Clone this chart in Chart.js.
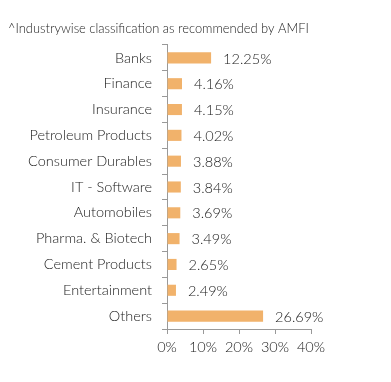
<!DOCTYPE html>
<html>
<head>
<meta charset="utf-8">
<script src="https://cdn.jsdelivr.net/npm/chart.js@4"></script>
<style>
html,body{margin:0;padding:0;background:#fff;}
#wrap{position:relative;width:391px;height:382px;}
</style>
</head>
<body>
<div id="wrap"><canvas id="c" width="391" height="382"></canvas></div>
<script>
const categories = ["Banks","Finance","Insurance","Petroleum Products","Consumer Durables","IT - Software","Automobiles","Pharma. & Biotech","Cement Products","Entertainment","Others"];
const weights = [12.25,4.16,4.15,4.02,3.88,3.84,3.69,3.49,2.65,2.49,26.69];
const xTicks = [0,10,20,30,40];
const titleText = "^Industrywise classification as recommended by AMFI";

const valueLabels = {
  id: 'valueLabels',
  afterDatasetsDraw(chart) {
    const ctx = chart.ctx;
    const meta = chart.getDatasetMeta(0);
    ctx.save();
    ctx.font = '300 14.5px Lato';
    ctx.fillStyle = '#1a1a1a';
    ctx.textBaseline = 'middle';
    ctx.textAlign = 'left';
    meta.data.forEach((el, i) => {
      ctx.fillText(weights[i].toFixed(2) + '%', el.x + 12, el.y + 1);
    });
    ctx.restore();
  }
};

new Chart(document.getElementById('c'), {
  type: 'bar',
  data: {
    labels: categories,
    datasets: [{
      data: weights,
      backgroundColor: '#F1B26B',
      borderWidth: 0,
      categoryPercentage: 1,
      barPercentage: 0.43
    }]
  },
  options: {
    indexAxis: 'y',
    responsive: false,
    animation: false,
    layout: { padding: { left: 8, right: 80, top: 0, bottom: 0 } },
    plugins: {
      legend: { display: false },
      tooltip: { enabled: false },
      title: {
        display: true,
        text: titleText,
        align: 'start',
        color: '#222222',
        font: { family: 'Lato', size: 12.9, weight: '300' },
        padding: { top: 21, bottom: 8.5 }
      }
    },
    scales: {
      x: {
        min: 0, max: 40,
        afterBuildTicks(scale) { scale.ticks = xTicks.map(v => ({ value: v })); },
        afterFit(scale) { scale.height = 53; },
        ticks: {
          color: '#1a1a1a',
          font: { family: 'Lato', size: 14.5, weight: '300' },
          padding: 5,
          maxRotation: 0,
          callback: v => v + '%'
        },
        grid: { drawOnChartArea: false, drawTicks: true, tickLength: 5, color: '#999999' },
        border: { display: true, color: '#999999' }
      },
      y: {
        afterFit(scale) { scale.width = 159; },
        ticks: {
          color: '#1a1a1a',
          font: { family: 'Lato', size: 14.5, weight: '300' },
          padding: 10
        },
        grid: { offset: true, drawOnChartArea: false, drawTicks: true, tickLength: 5, color: '#999999' },
        border: { display: true, color: '#999999' }
      }
    }
  },
  plugins: [valueLabels]
});
</script>
</body>
</html>
